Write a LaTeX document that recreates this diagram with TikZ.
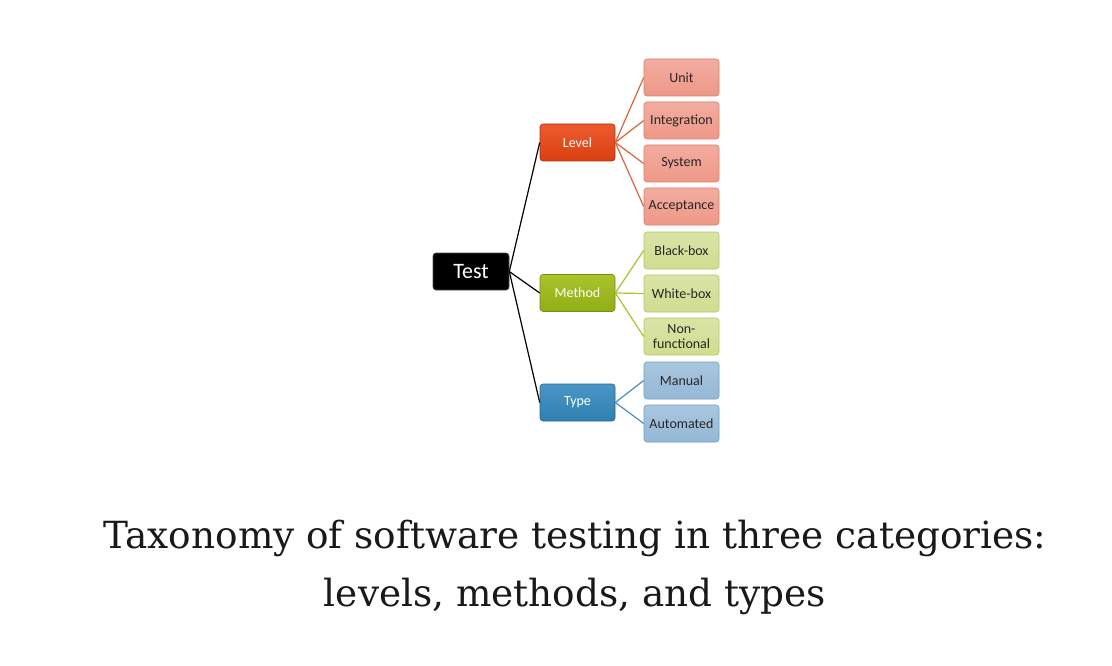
\documentclass[tikz,border=0pt]{standalone}
\usepackage{fontspec}
\newfontfamily\boxfont{Carlito}
\newfontfamily\capfont{DejaVu Serif}
\begin{document}
\begin{tikzpicture}[x=1pt,y=-1pt,
  base/.style={rounded corners=3pt, minimum width=75pt, minimum height=37pt, inner sep=1pt, align=center, font=\boxfont\fontsize{14}{15}\selectfont, line width=0.6pt},
  root/.style={base, fill=black, draw=black!70, text=white, minimum width=76pt, font=\boxfont\fontsize{22}{24}\selectfont},
  lvl/.style={base, top color=lvlA, bottom color=lvlB, draw=lvlB!80!black, text=white},
  mth/.style={base, top color=mthA, bottom color=mthB, draw=mthB!80!black, text=white},
  typ/.style={base, top color=typA, bottom color=typB, draw=typB!80!black, text=white},
  lvlleaf/.style={base, top color=lvlL!80!white, bottom color=lvlL, draw=lvlLd, text=black!85},
  mthleaf/.style={base, top color=mthL!80!white, bottom color=mthL, draw=mthLd, text=black!85},
  typleaf/.style={base, top color=typL!80!white, bottom color=typL, draw=typLd, text=black!85},
  captext/.style={font=\capfont\fontsize{37.4}{45}\selectfont, text=black!90},
]
\definecolor{lvlA}{HTML}{EE5A30}
\definecolor{lvlB}{HTML}{D9400F}
\definecolor{mthA}{HTML}{A8C42A}
\definecolor{mthB}{HTML}{92AE16}
\definecolor{typA}{HTML}{4A97C6}
\definecolor{typB}{HTML}{2F7FB2}
\definecolor{lvlL}{HTML}{EE9888}
\definecolor{lvlLd}{HTML}{E07A66}
\definecolor{mthL}{HTML}{D0DD90}
\definecolor{mthLd}{HTML}{B4C75C}
\definecolor{typL}{HTML}{94B8D6}
\definecolor{typLd}{HTML}{6E9EC4}
\definecolor{lvlLine}{HTML}{D9643C}
\definecolor{mthLine}{HTML}{A8C42A}
\definecolor{typLine}{HTML}{4A8FC0}
\useasboundingbox (0,0) rectangle (1112,666);
\fill[white] (0,0) rectangle (1112,666);

\node[root] (test) at (471,271.5) {Test};
\node[lvl] (level) at (577.5,142.5) {Level};
\node[mth] (method) at (577.5,293) {Method};
\node[typ] (type) at (577.5,402.5) {Type};

\node[lvlleaf] (unit) at (681.5,77.5) {Unit};
\node[lvlleaf] (integ) at (681.5,120.5) {Integration};
\node[lvlleaf] (system) at (681.5,163.5) {System};
\node[lvlleaf] (accept) at (681.5,206.5) {Acceptance};
\node[mthleaf] (black) at (681.5,250.5) {Black-box};
\node[mthleaf] (white) at (681.5,293.5) {White-box};
\node[mthleaf] (nonf) at (681.5,336.5) {Non-\\functional};
\node[typleaf] (manual) at (681.5,380.5) {Manual};
\node[typleaf] (auto) at (681.5,423.5) {Automated};

\begin{scope}[line width=1.2pt]
\draw[black] (test.east) -- (level.west);
\draw[black] (test.east) -- (method.west);
\draw[black] (test.east) -- (type.west);
\foreach \t in {unit,integ,system,accept} \draw[lvlLine] (level.east) -- (\t.west);
\foreach \t in {black,white,nonf} \draw[mthLine] (method.east) -- (\t.west);
\foreach \t in {manual,auto} \draw[typLine] (type.east) -- (\t.west);
\end{scope}

\node[captext] (cap1) at (575,538) {Taxonomy of software testing in three categories:};
\node[captext] (cap2) at (575,596) {levels, methods, and types};
\end{tikzpicture}
\end{document}
